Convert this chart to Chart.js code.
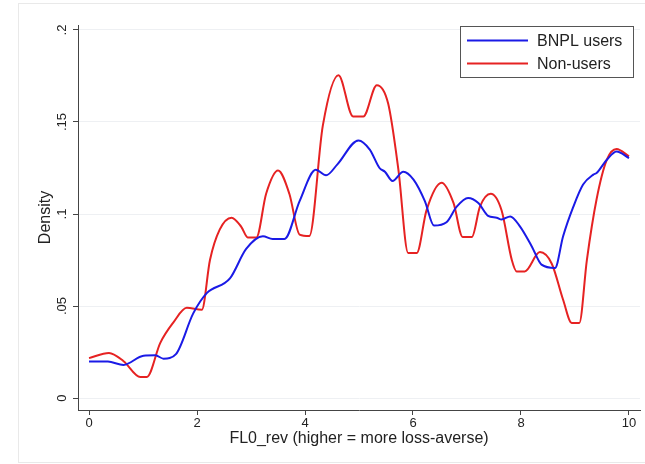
<!DOCTYPE html>
<html>
<head>
<meta charset="utf-8">
<title>FL0_rev density</title>
<script src="https://cdn.jsdelivr.net/npm/chart.js@4.4.1/dist/chart.umd.min.js"></script>
<style>
  html, body { margin: 0; padding: 0; background: #fff; }
  #wrap { width: 645px; height: 464px; }
</style>
</head>
<body>
<div id="wrap"><canvas id="densityChart" width="645" height="464"></canvas></div>
<script>
// axis ticks
const xTicks = [0, 2, 4, 6, 8, 10];
const yTicks = [0, 0.05, 0.1, 0.15, 0.2];
const yTickLabels = ["0", ".05", ".1", ".15", ".2"];

const seriesNames = ["BNPL users", "Non-users"];
const seriesColors = ["#1a1ae6", "#e62222"];

// BNPL users density
const bnplX = [0, 0.35, 0.64, 1.01, 1.23, 1.38, 1.61, 1.93, 2.18, 2.61, 2.91, 3.22, 3.40, 3.62, 3.90,
  4.20, 4.39, 4.60, 4.99, 5.20, 5.38, 5.48, 5.62, 5.82, 6.01, 6.22, 6.39, 6.62, 6.81, 7.02,
  7.21, 7.39, 7.55, 7.64, 7.80, 7.98, 8.20, 8.38, 8.63, 8.78, 8.97, 9.15, 9.34, 9.40, 9.59, 9.77, 10];
const bnplY = [0.0199, 0.0198, 0.018, 0.023, 0.0232, 0.0214, 0.0239, 0.046, 0.057, 0.065, 0.081, 0.0879, 0.0864, 0.0864, 0.107,
  0.124, 0.121, 0.127, 0.140, 0.135, 0.125, 0.123, 0.118, 0.123, 0.1187, 0.107, 0.0937, 0.0955, 0.104, 0.1087,
  0.106, 0.099, 0.098, 0.097, 0.0987, 0.0933, 0.0824, 0.0725, 0.0707, 0.0879, 0.104, 0.116, 0.1214, 0.1223, 0.1295, 0.134, 0.1304];

// Non-users density
const nonX = [0, 0.37, 0.64, 0.95, 1.07, 1.32, 1.56, 1.81, 2.09, 2.24, 2.42, 2.64, 2.82, 2.94, 3.10,
  3.28, 3.50, 3.71, 3.90, 4.08, 4.33, 4.62, 4.89, 5.08, 5.33, 5.54, 5.73, 5.91, 6.07, 6.25,
  6.53, 6.75, 6.92, 7.09, 7.24, 7.44, 7.64, 7.83, 7.92, 8.07, 8.35, 8.57, 8.78, 8.94, 9.08,
  9.22, 9.40, 9.59, 9.77, 10];
const nonY = [0.0217, 0.0245, 0.020, 0.0114, 0.0114, 0.030, 0.041, 0.049, 0.048, 0.075, 0.0915, 0.098, 0.093, 0.0873, 0.0873,
  0.111, 0.1236, 0.111, 0.0888, 0.088, 0.148, 0.1754, 0.153, 0.153, 0.170, 0.160, 0.124, 0.0788, 0.0788, 0.102,
  0.117, 0.106, 0.0875, 0.0875, 0.104, 0.111, 0.102, 0.075, 0.0688, 0.0688, 0.0793, 0.073, 0.0534, 0.0408, 0.0408,
  0.075, 0.108, 0.1295, 0.1353, 0.1313];

const toPoints = (xs, ys) => xs.map((x, i) => ({ x, y: ys[i] }));

const FONT = "'Liberation Sans', Arial, Helvetica, sans-serif";
const INK = "#222";

// faint outer frame like the exported graph
const outerFrame = {
  id: 'outerFrame',
  beforeDraw(chart) {
    const ctx = chart.ctx;
    ctx.save();
    ctx.strokeStyle = '#e9e9e9';
    ctx.lineWidth = 1;
    ctx.strokeRect(18.5, 3.5, 700, 459);
    ctx.restore();
  }
};

// legend box in the top right of the plot
const boxLegend = {
  id: 'boxLegend',
  afterDraw(chart) {
    const ctx = chart.ctx;
    ctx.save();
    ctx.fillStyle = '#fff';
    ctx.fillRect(460.5, 26.5, 173, 51);
    ctx.strokeStyle = '#555';
    ctx.lineWidth = 1;
    ctx.strokeRect(460.5, 26.5, 173, 51);
    ctx.font = '16px ' + FONT;
    ctx.textBaseline = 'middle';
    chart.data.datasets.forEach((ds, i) => {
      const y = 40.5 + i * 23;
      ctx.strokeStyle = ds.borderColor;
      ctx.lineWidth = 2;
      ctx.beginPath();
      ctx.moveTo(467, y);
      ctx.lineTo(528, y);
      ctx.stroke();
      ctx.fillStyle = INK;
      ctx.fillText(ds.label, 537, y + 1);
    });
    ctx.restore();
  }
};

new Chart(document.getElementById('densityChart'), {
  type: 'line',
  data: {
    datasets: [
      { label: seriesNames[0], data: toPoints(bnplX, bnplY), borderColor: seriesColors[0] },
      { label: seriesNames[1], data: toPoints(nonX, nonY), borderColor: seriesColors[1] }
    ]
  },
  options: {
    responsive: false,
    animation: false,
    devicePixelRatio: 1,
    layout: { padding: { left: 0, right: 5, top: 25, bottom: 0 } },
    elements: {
      point: { radius: 0 },
      line: { borderWidth: 2, cubicInterpolationMode: 'monotone' }
    },
    plugins: {
      legend: { display: false },
      tooltip: { enabled: false }
    },
    scales: {
      x: {
        type: 'linear',
        min: -0.204,
        max: 10.204,
        afterBuildTicks: s => { s.ticks = xTicks.map(v => ({ value: v })); },
        afterFit: s => { s.height = 54; },
        grid: { drawOnChartArea: false, drawTicks: true, tickLength: 5, tickColor: '#444' },
        border: { display: true, color: '#444', width: 1 },
        ticks: { color: INK, padding: 1, maxRotation: 0, font: { size: 13, family: FONT } },
        title: {
          display: true, text: 'FL0_rev (higher = more loss-averse)', color: INK,
          font: { size: 16, family: FONT }, padding: { top: 0, bottom: 16 }
        }
      },
      y: {
        type: 'linear',
        min: -0.0065,
        max: 0.2027,
        afterBuildTicks: s => { s.ticks = yTicks.map(v => ({ value: v })); },
        afterFit: s => { s.width = 78; },
        grid: { color: '#eef0f3', lineWidth: 1, drawTicks: true, tickLength: 5, tickColor: '#444' },
        border: { display: true, color: '#444', width: 1 },
        ticks: {
          color: INK, padding: 2, minRotation: 90, maxRotation: 90, crossAlign: 'center',
          font: { size: 13, family: FONT },
          callback: v => yTickLabels[yTicks.indexOf(v)] ?? ''
        },
        title: {
          display: true, text: 'Density', color: INK,
          font: { size: 16, family: FONT }, padding: { top: 36, bottom: 0 }
        }
      }
    }
  },
  plugins: [outerFrame, boxLegend]
});
</script>
</body>
</html>
